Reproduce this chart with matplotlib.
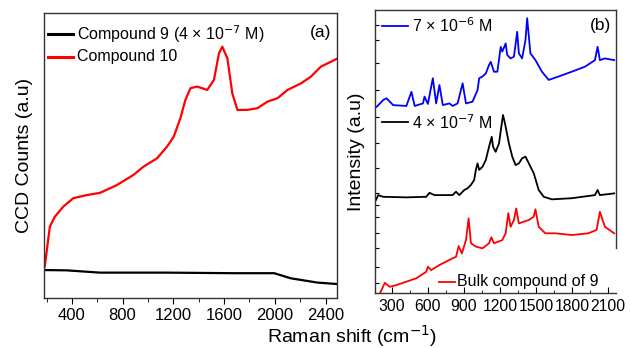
import matplotlib
matplotlib.use("Agg")
import matplotlib.pyplot as plt
from matplotlib.ticker import MultipleLocator

plt.rcParams['font.family'] = ['Liberation Sans', 'DejaVu Sans']

# ---------------- Panel (a) data ----------------
a_red_x = [186, 226, 265, 331, 410, 516, 622, 754, 886, 965, 1071, 1150, 1203, 1255, 1295,
           1335, 1388, 1467, 1520, 1560, 1586, 1626, 1665, 1705, 1784, 1863, 1942, 2021,
           2100, 2206, 2285, 2364, 2470, 2490]
a_red_y = [11.0, 25.0, 28.5, 32.0, 35.0, 36.1, 36.9, 39.6, 43.2, 46.1, 49.0, 53.1, 56.6, 63.0, 69.5,
           73.6, 74.2, 73.0, 76.5, 85.9, 88.2, 84.1, 71.8, 66.0, 66.0, 66.6, 68.9, 70.1,
           73.0, 75.3, 77.7, 81.2, 83.5, 84.0]
a_blk_x = [186, 358, 622, 1150, 1678, 1995, 2127, 2338, 2490]
a_blk_y = [9.8, 9.7, 8.9, 8.9, 8.7, 8.7, 6.9, 5.4, 4.9]
a_labels = ["Compound 9 (4 × 10$^{-7}$ M)", "Compound 10"]

# ---------------- Panel (b) data ----------------
b_blue_x = [174, 228, 256, 311, 421, 463, 490, 559, 572, 600, 641, 669, 696, 724, 779, 806,
            847, 889, 917, 971, 1013, 1027, 1054, 1082, 1109, 1123, 1150, 1178, 1206, 1219,
            1247, 1260, 1288, 1316, 1343, 1357, 1384, 1412, 1426, 1453, 1495, 1549, 1605,
            1687, 1797, 1908, 1990, 2012, 2031, 2073, 2150]
b_blue_y = [65.8, 68.2, 68.8, 66.4, 66.1, 71.1, 66.1, 67.0, 69.4, 66.8, 75.9, 67.0, 73.5, 66.4,
            67.0, 66.1, 67.0, 74.1, 67.0, 67.6, 71.7, 75.9, 76.5, 77.6, 80.6, 81.7, 78.2, 78.2,
            87.0, 85.3, 88.2, 84.1, 82.9, 83.5, 92.3, 84.7, 82.9, 89.4, 97.1, 84.7, 82.3, 78.2,
            75.3, 76.5, 78.2, 80.0, 82.3, 87.0, 82.3, 82.9, 82.3]
b_blk_x = [168, 187, 228, 421, 586, 613, 655, 806, 834, 861, 903, 930, 958, 985, 999, 1013,
           1027, 1054, 1082, 1109, 1131, 1142, 1164, 1192, 1211, 1225, 1241, 1274, 1302, 1330,
           1357, 1384, 1412, 1440, 1481, 1522, 1564, 1632, 1797, 1990, 2012, 2031, 2150]
b_blk_y = [32.9, 34.6, 34.0, 33.8, 34.0, 35.4, 34.6, 34.6, 35.8, 34.6, 36.4, 37.0, 38.2, 39.9,
           43.5, 45.8, 43.5, 44.6, 47.0, 51.7, 55.2, 51.7, 49.9, 52.9, 58.8, 62.9, 60.0, 52.9,
           48.2, 45.2, 45.8, 47.6, 48.2, 45.8, 42.3, 36.4, 34.0, 33.1, 33.5, 34.6, 36.4, 34.6,
           35.2]
b_red_x = [174, 201, 242, 283, 338, 421, 503, 586, 600, 627, 696, 779, 834, 856, 883, 917,
           939, 958, 999, 1054, 1109, 1128, 1150, 1219, 1247, 1269, 1288, 1316, 1335, 1357,
           1398, 1440, 1481, 1495, 1522, 1577, 1660, 1797, 1935, 2004, 2031, 2073, 2150]
b_red_y = [-2.5, -0.1, 3.6, 2.2, 2.8, 4.0, 5.2, 7.5, 9.3, 8.1, 9.9, 11.7, 12.8, 16.6, 14.0,
           18.7, 26.4, 17.6, 16.4, 15.8, 17.6, 19.7, 17.6, 18.7, 21.1, 28.2, 23.4, 25.8, 29.9,
           24.6, 25.2, 25.8, 27.0, 29.6, 23.4, 21.1, 21.1, 20.5, 21.1, 22.3, 28.7, 23.4, 21.1]
b_labels = ["7 × 10$^{-6}$ M", "4 × 10$^{-7}$ M", "Bulk compound of 9"]

fig = plt.figure(figsize=(6.31, 3.48), dpi=100)

# ---------------- Panel (a) ----------------
ax1 = fig.add_axes([0.0697, 0.1437, 0.4643, 0.8189])
ax1.plot(a_blk_x, a_blk_y, color='black', lw=1.6)
ax1.plot(a_red_x, a_red_y, color='#ff0000', lw=1.6)
ax1.set_xlim(180, 2490)
ax1.set_ylim(0, 100)
ax1.set_yticks([])
ax1.set_xticks([400, 800, 1200, 1600, 2000, 2400])
ax1.xaxis.set_minor_locator(MultipleLocator(200))
ax1.tick_params(axis='x', which='major', direction='out', length=4, labelsize=12, pad=3)
ax1.tick_params(axis='x', which='minor', direction='out', length=3)
for s in ax1.spines.values():
    s.set_linewidth(1.0)
    s.set_color('#333333')
ax1.set_ylabel("CCD Counts (a.u)", fontsize=14, labelpad=8)

# legend (a)
ax1.plot([0.015, 0.10], [0.927, 0.927], transform=ax1.transAxes, color='black', lw=2.2)
ax1.text(0.113, 0.927, a_labels[0], transform=ax1.transAxes, fontsize=11.5, va='center')
ax1.plot([0.015, 0.10], [0.846, 0.846], transform=ax1.transAxes, color='#ff0000', lw=2.2)
ax1.text(0.113, 0.846, a_labels[1], transform=ax1.transAxes, fontsize=11.5, va='center')
ax1.text(0.945, 0.93, "(a)", transform=ax1.transAxes, fontsize=12.5, va='center', ha='center')

# ---------------- Panel (b) ----------------
ax2 = fig.add_axes([0.5943, 0.158, 0.3819, 0.8132])
ax2.plot(b_blue_x, b_blue_y, color='#0000ff', lw=1.3)
ax2.plot(b_blk_x, b_blk_y, color='black', lw=1.3)
ax2.plot(b_red_x, b_red_y, color='#ff0000', lw=1.3)
ax2.set_xlim(160, 2165)
ax2.set_ylim(0, 100)
ax2.set_xticks([300, 600, 900, 1200, 1500, 1800, 2100])
ax2.xaxis.set_minor_locator(MultipleLocator(150))
ax2.tick_params(axis='x', which='major', direction='in', length=4, labelsize=11.3, pad=4)
ax2.tick_params(axis='x', which='minor', direction='in', length=2)
tick_px = [25, 40, 63, 90, 117, 143, 168, 193, 205, 217, 233, 248, 267, 283]
ax2.set_yticks([(293 - p) / 283 * 100 for p in tick_px])
ax2.set_yticklabels([])
ax2.tick_params(axis='y', direction='in', length=3)
ax2.spines['right'].set_visible(False)
for s in ax2.spines.values():
    s.set_linewidth(1.0)
    s.set_color('#333333')
ax2.plot([1, 1], [0.159, 1], transform=ax2.transAxes, color='#333333', lw=1.0, clip_on=False)
ax2.set_ylabel("Intensity (a.u)", fontsize=14, labelpad=4)

ax2.plot([0.03, 0.135], [0.945, 0.945], transform=ax2.transAxes, color='#0000ff', lw=1.3)
ax2.text(0.155, 0.945, b_labels[0], transform=ax2.transAxes, fontsize=11.5, va='center')
ax2.plot([0.03, 0.135], [0.603, 0.603], transform=ax2.transAxes, color='black', lw=1.3)
ax2.text(0.155, 0.603, b_labels[1], transform=ax2.transAxes, fontsize=11.5, va='center')
ax2.plot([0.265, 0.33], [0.039, 0.039], transform=ax2.transAxes, color='#ff0000', lw=1.3)
ax2.text(0.34, 0.039, b_labels[2], transform=ax2.transAxes, fontsize=11.5, va='center')
ax2.text(0.935, 0.945, "(b)", transform=ax2.transAxes, fontsize=12.5, va='center', ha='center')

fig.text(352 / 631, 1 - 336 / 348, "Raman shift (cm$^{-1}$)", fontsize=14,
         ha='center', va='center')

fig.savefig("out.png", dpi=100)
